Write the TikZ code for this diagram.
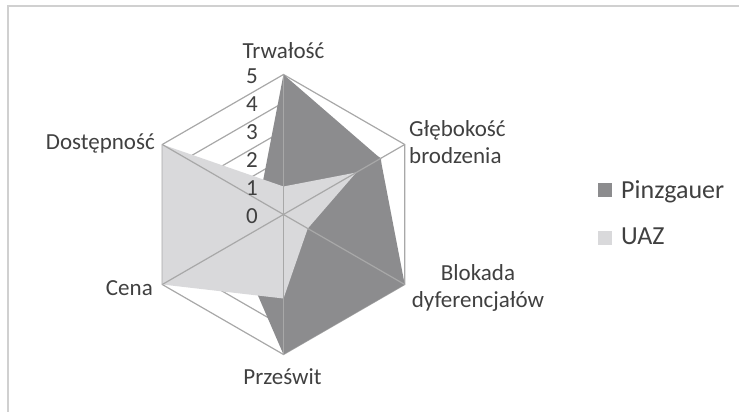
\documentclass[tikz,border=0pt]{standalone}
\usepackage{fontspec}
\setmainfont{Carlito}
\definecolor{pinzgauer}{HTML}{8C8C8E}
\definecolor{uaz}{HTML}{D9D9DB}
\definecolor{gridgray}{HTML}{A8A8A8}
\definecolor{framegray}{HTML}{D0D0D0}
\definecolor{textgray}{HTML}{404040}
\tikzset{
  axis label/.style={text=textgray, inner sep=0pt,
    font=\fontsize{23}{26.5}\selectfont},
  scale label/.style={axis label, anchor=east},
  legend key/.style={minimum size=14pt, inner sep=0pt},
  legend label/.style={text=textgray, inner sep=0pt, anchor=base west,
    font=\fontsize{26}{30}\selectfont},
  radar grid/.style={gridgray, line width=1.2pt},
}

\begin{document}
\begin{tikzpicture}[x=1pt, y=1pt]
  \useasboundingbox (-283.5,-197.5) rectangle (455.5,214.5);
  \draw[framegray, line width=1.5pt] (-275.5,-200) -- (-275.5,208.5) -- (460,208.5);
  \coordinate (O) at (0,0);
  % rings 1..5
  \foreach \r in {1,...,5}
    \draw[radar grid] (90:28*\r) \foreach \k in {1,...,5} { -- ({90-60*\k}:28*\r) } -- cycle;
  % series values
  \foreach \v [count=\k from 0] in {5,4,5,5,2,1}
    \coordinate (P\k) at ({90-60*\k}:28*\v);
  \foreach \v [count=\k from 0] in {1,3,1,3,5,5}
    \coordinate (U\k) at ({90-60*\k}:28*\v);
  \fill[pinzgauer] (P0) -- (P1) -- (P2) -- (P3) -- (P4) -- (P5) -- cycle;
  \fill[uaz] (U0) -- (U1) -- (U2) -- (U3) -- (U4) -- (U5) -- cycle;
  % spokes
  \foreach \k in {0,...,5} {
    \coordinate (A\k) at ({90-60*\k}:140);
    \draw[radar grid] (O) -- (A\k);
  }
  \foreach \i in {0,...,5}
    \node[scale label] (s\i) at (-25.5,28*\i-1.5) {\i};
  % axis labels
  \node[axis label, anchor=base] (trwalosc) at (0,156.2) {Trwałość};
  \node[axis label, anchor=west, align=left] (glebokosc) at (125.5,72.5) {Głębokość\\brodzenia};
  \node[axis label, align=center] (blokada) at (194.5,-73.5) {Blokada\\dyferencjałów};
  \node[axis label, anchor=base] (przeswit) at (-1,-169.8) {Prześwit};
  \node[axis label, anchor=east] (cena) at (-130.5,-73.5) {Cena};
  \node[axis label, anchor=east] (dostepnosc) at (-128.5,71.5) {Dostępność};
  % legend
  \node[legend key, fill=pinzgauer] (keyP) at (321.8,24.2) {};
  \node[legend label] (legP) at (337.5,16.2) {Pinzgauer};
  \node[legend key, fill=uaz] (keyU) at (321.5,-23.8) {};
  \node[legend label] (legU) at (337.5,-30.5) {UAZ};
\end{tikzpicture}
\end{document}
